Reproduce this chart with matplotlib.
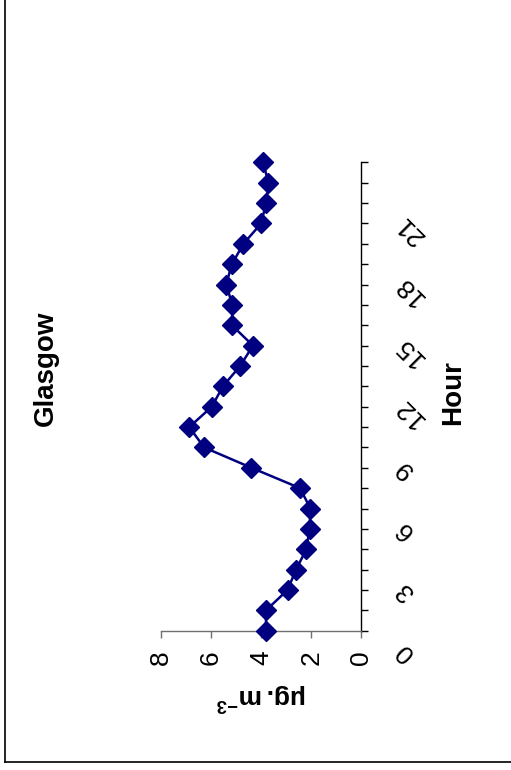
import numpy as np
import matplotlib
matplotlib.use("Agg")
import matplotlib.pyplot as plt
from matplotlib.lines import Line2D
from matplotlib.transforms import offset_copy

plt.rcParams['font.family'] = ['Liberation Sans', 'DejaVu Sans']
plt.rcParams['mathtext.fontset'] = 'custom'
plt.rcParams['mathtext.rm'] = 'Liberation Sans'
plt.rcParams['mathtext.bf'] = 'Liberation Sans:bold'

# hourly mean concentration, Glasgow
hours = np.arange(24)
conc = [3.81, 3.81, 2.95, 2.61, 2.20, 2.07, 2.04, 2.45, 4.39, 6.28, 6.87, 5.97,
        5.53, 4.84, 4.33, 5.17, 5.15, 5.40, 5.17, 4.71, 4.00, 3.81, 3.71, 3.93]
value_ticks = [0, 2, 4, 6, 8]
hour_labels = [0, 3, 6, 9, 12, 15, 18, 21]

navy = '#000080'

fig = plt.figure(figsize=(5.11, 7.70), dpi=100)
# page is turned on its side: hours run up the page, values run right to left
ax = fig.add_axes([0.315, 0.1809, 0.3924, 0.6083])
ax.plot(conc, hours, color=navy, lw=1.8, marker='D', ms=10, mfc=navy, mec=navy,
        clip_on=False, zorder=5)

ax.set_xlim(8, 0)
ax.set_ylim(0, 23)

for s in ['left', 'top']:
    ax.spines[s].set_visible(False)
ax.spines['right'].set_color('black')
ax.spines['right'].set_linewidth(1.0)
ax.spines['bottom'].set_color('#707070')
ax.spines['bottom'].set_linewidth(1.0)

ax.set_xticks(value_ticks)
ax.set_xticklabels([str(v) for v in value_ticks], rotation=90, fontsize=19)
ax.tick_params(axis='x', direction='out', length=5, width=1.0, color='#707070', pad=9)

ax.yaxis.tick_right()
ax.set_yticks(hours)
ax.tick_params(axis='y', direction='out', length=5, width=1.0, color='black',
               labelright=False, labelleft=False)

lab_tr = offset_copy(ax.transData, fig=fig, x=27.5, y=-11.5, units='points')
for h in hour_labels:
    ax.text(0, h, str(h), transform=lab_tr, rotation=135,
            rotation_mode='anchor', ha='right', va='center', fontsize=19)

ax.set_xlabel(r'$\mathbf{\mu g.m^{-3}}$', rotation=180, fontsize=19, labelpad=11)

fig.text(0.089, 0.522, 'Glasgow', rotation=90, fontsize=20, fontweight='bold',
         ha='center', va='center')
fig.text(0.887, 0.49, 'Hour', rotation=90, fontsize=20, fontweight='bold',
         ha='center', va='center')

# outer frame
fig.add_artist(Line2D([0.0098, 0.0098], [0.0104, 1.0], color='black', lw=1.2))
fig.add_artist(Line2D([0.0098, 1.0], [0.0104, 0.0104], color='black', lw=1.2))

fig.savefig('out.png', dpi=100)
